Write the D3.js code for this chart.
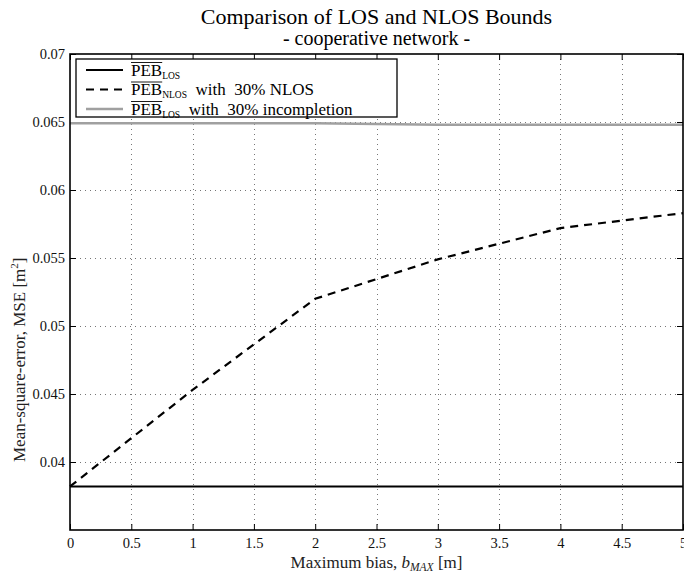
<!DOCTYPE html>
<meta charset="utf-8">
<style>
body { margin: 0; background: #fff; }
svg { font-family: "Liberation Serif", "DejaVu Serif", serif; }
</style>
<svg width="684" height="576"></svg>
<script src="https://cdn.jsdelivr.net/npm/d3@7/dist/d3.min.js"></script>
<script>
// values
var bias = [0, 1, 2, 3, 4, 5];
var pebLos = [0.0382, 0.0382, 0.0382, 0.0382, 0.0382, 0.0382];
var pebNlos = [0.0382, 0.0453, 0.0520, 0.0549, 0.0572, 0.0583];
var pebIncomplete = [0.0649, 0.0649, 0.0649, 0.0648, 0.0648, 0.0648];
var xTicks = [0, 0.5, 1, 1.5, 2, 2.5, 3, 3.5, 4, 4.5, 5];
var yTicks = [0.04, 0.045, 0.05, 0.055, 0.06, 0.065, 0.07];

var svg = d3.select("svg");
var mLeft = 70, mRight = 683, mTop = 54, mBottom = 530;

var x = d3.scaleLinear().domain([0, 5]).range([mLeft, mRight]);
var y = d3.scaleLinear().domain([0.035, 0.07]).range([mBottom, mTop]);

// grid
var grid = svg.append("g").attr("stroke", "#555").attr("stroke-width", 1)
    .attr("stroke-dasharray", "1,4").attr("opacity", 0.8);
grid.selectAll("line.vx").data(xTicks.slice(1, -1)).enter().append("line")
    .attr("x1", function(d) { return Math.round(x(d)) + 0.5; })
    .attr("x2", function(d) { return Math.round(x(d)) + 0.5; })
    .attr("y1", mTop).attr("y2", mBottom);
grid.selectAll("line.hy").data(yTicks.slice(0, -1)).enter().append("line")
    .attr("y1", function(d) { return Math.round(y(d)) + 0.5; })
    .attr("y2", function(d) { return Math.round(y(d)) + 0.5; })
    .attr("x1", mLeft).attr("x2", mRight);

// axes (ticks inside, mirrored on top/right)
var ax = svg.append("g");
ax.append("g").attr("transform", "translate(0," + mBottom + ")")
    .call(d3.axisBottom(x).tickValues(xTicks).tickSizeInner(-6).tickSizeOuter(0).tickPadding(8)
      .tickFormat(d3.format("")));
ax.append("g").attr("transform", "translate(0," + mTop + ")")
    .call(d3.axisTop(x).tickValues(xTicks).tickSizeInner(-6).tickSizeOuter(0).tickFormat(""));
ax.append("g").attr("transform", "translate(" + mLeft + ",0)")
    .call(d3.axisLeft(y).tickValues(yTicks).tickSizeInner(-6).tickSizeOuter(0).tickPadding(5)
      .tickFormat(d3.format("")));
ax.append("g").attr("transform", "translate(" + mRight + ",0)")
    .call(d3.axisRight(y).tickValues(yTicks).tickSizeInner(-6).tickSizeOuter(0).tickFormat(""));
ax.selectAll(".domain").remove();
ax.selectAll("text").attr("font-family", "Liberation Serif").attr("font-size", 14.5).attr("fill", "#111");
ax.selectAll(".tick line").attr("stroke", "#000");

// curves
var line = d3.line().x(function(d) { return x(d[0]); }).y(function(d) { return y(d[1]); });
function pairs(vals) { return bias.map(function(b, i) { return [b, vals[i]]; }); }

svg.append("path").datum(pairs(pebIncomplete)).attr("d", line)
    .attr("fill", "none").attr("stroke", "#a0a0a0").attr("stroke-width", 2.5);
svg.append("path").datum(pairs(pebNlos)).attr("d", line)
    .attr("fill", "none").attr("stroke", "#000").attr("stroke-width", 2.2).attr("stroke-dasharray", "8,6");
svg.append("path").datum(pairs(pebLos)).attr("d", line)
    .attr("fill", "none").attr("stroke", "#000").attr("stroke-width", 2);

// frame
svg.append("rect").attr("x", mLeft).attr("y", mTop).attr("width", mRight - mLeft).attr("height", mBottom - mTop)
    .attr("fill", "none").attr("stroke", "#000").attr("stroke-width", 1.6);

// legend
var lg = svg.append("g").attr("transform", "translate(76,59)");
lg.append("rect").attr("width", 321).attr("height", 58).attr("fill", "#fff").attr("stroke", "#000").attr("stroke-width", 1.3);
var items = [
  { sub: "LOS", rest: "", stroke: "#000", dash: null, w: 2 },
  { sub: "NLOS", rest: "with\u00a0\u00a030% NLOS", stroke: "#000", dash: "8,6", w: 2.2 },
  { sub: "LOS", rest: "with\u00a0\u00a030% incompletion", stroke: "#a0a0a0", dash: null, w: 2.5 }
];
items.forEach(function(it, i) {
  var yy = 11 + i * 19.5;
  lg.append("line").attr("x1", 10).attr("x2", 47).attr("y1", yy).attr("y2", yy)
    .attr("stroke", it.stroke).attr("stroke-width", it.w).attr("stroke-dasharray", it.dash);
  var t = lg.append("text").attr("x", 55).attr("y", yy + 5.5).attr("font-size", 17).attr("fill", "#000");
  var peb = t.append("tspan").text("PEB");
  t.append("tspan").attr("font-size", 9.5).attr("dy", 3).text(it.sub);
  t.append("tspan").attr("dy", -3).text(it.rest ? "\u00a0\u00a0" + it.rest : "");
  var w = peb.node().getComputedTextLength();
  lg.append("line").attr("x1", 55).attr("x2", 55 + w).attr("y1", yy - 7.5).attr("y2", yy - 7.5)
    .attr("stroke", "#000").attr("stroke-width", 0.9);
});

// titles and labels
svg.append("text").attr("x", (mLeft + mRight) / 2).attr("y", 24).attr("text-anchor", "middle")
    .attr("font-size", 22).text("Comparison of LOS and NLOS Bounds");
svg.append("text").attr("x", (mLeft + mRight) / 2).attr("y", 45).attr("text-anchor", "middle")
    .attr("font-size", 20).text("- cooperative network -");

var xl = svg.append("text").attr("x", (mLeft + mRight) / 2).attr("y", 568).attr("text-anchor", "middle")
    .attr("font-size", 17).attr("fill", "#222");
xl.append("tspan").text("Maximum bias, ");
xl.append("tspan").attr("font-style", "italic").text("b");
xl.append("tspan").attr("font-style", "italic").attr("font-size", 11.5).attr("dy", 3).text("MAX");
xl.append("tspan").attr("dy", -3).text(" [m]");

var yl = svg.append("text").attr("transform", "translate(25,462) rotate(-90)")
    .attr("text-anchor", "start").attr("font-size", 17).attr("fill", "#222");
yl.append("tspan").text("Mean-square-error, MSE [m");
yl.append("tspan").attr("font-size", 11).attr("dy", -7).text("2");
yl.append("tspan").attr("dy", 7).text("]");
</script>
